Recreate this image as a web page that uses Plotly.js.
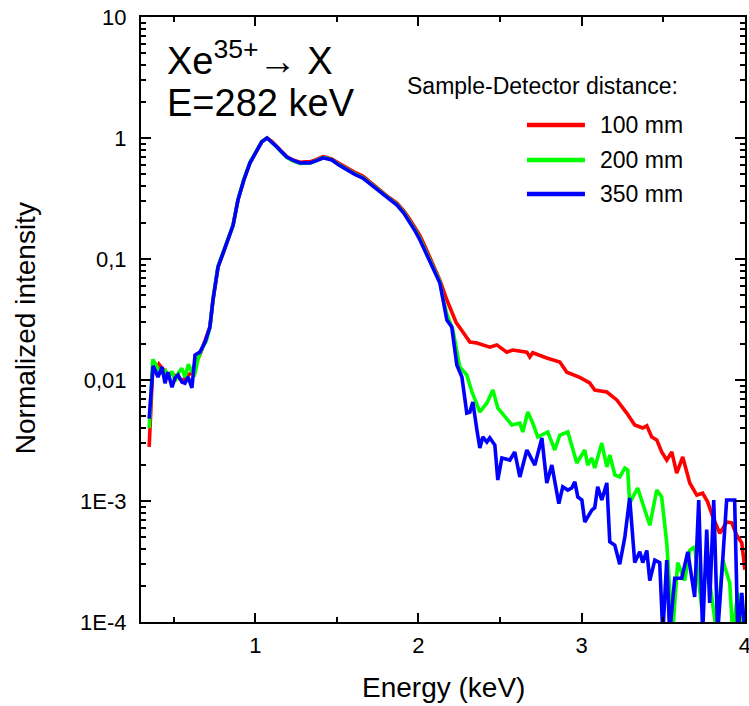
<!DOCTYPE html>
<html>
<head>
<meta charset="utf-8">
<script src="https://cdn.plot.ly/plotly-3.0.1.min.js"></script>
<style>html,body{margin:0;padding:0;background:#fff;}#chart{width:749px;height:706px;}</style>
</head>
<body>
<div id="chart"></div>
<script>
// Energy (keV) and normalized intensity
const seriesNames = ["100 mm", "200 mm", "350 mm"];
const seriesColors = ["#ff0000", "#00ff00", "#0000ff"];

const xRed = [0.35,0.372,0.39,0.41,0.43,0.45,0.47,0.49,0.51,0.53,0.55,0.57,0.59,0.61,0.63,0.66,0.69,0.722,0.741,0.772,0.81,0.833,0.864,0.894,0.93,0.967,1.010,1.04,1.072,1.10,1.133,1.165,1.194,1.23,1.274,1.31,1.335,1.375,1.415,1.44,1.47,1.51,1.561,1.61,1.659,1.71,1.764,1.82,1.868,1.91,1.947,1.98,2.009,2.04,2.07,2.10,2.131,2.174,2.23,2.272,2.315,2.358,2.437,2.48,2.541,2.578,2.664,2.682,2.70,2.786,2.866,2.909,2.988,3.049,3.08,3.154,3.215,3.276,3.325,3.374,3.399,3.429,3.46,3.49,3.521,3.552,3.582,3.619,3.662,3.705,3.741,3.772,3.803,3.846,3.888,3.919,3.95,3.981,4.0];
const yRed = [0.0028,0.0125,0.0118,0.0135,0.0125,0.0118,0.011,0.0112,0.0108,0.0105,0.0098,0.0105,0.011,0.0115,0.0135,0.016,0.021,0.0274,0.046,0.086,0.118,0.144,0.19,0.307,0.45,0.62,0.80,0.93,1.0,0.94,0.85,0.77,0.70,0.66,0.63,0.635,0.635,0.665,0.70,0.69,0.67,0.62,0.565,0.52,0.485,0.425,0.372,0.322,0.29,0.25,0.212,0.182,0.156,0.127,0.103,0.085,0.067,0.0458,0.030,0.0249,0.0206,0.0202,0.0187,0.0195,0.0170,0.0177,0.0170,0.0155,0.0168,0.0152,0.0141,0.0116,0.0105,0.00945,0.00826,0.00796,0.00684,0.00533,0.00425,0.00401,0.00418,0.00338,0.00319,0.00254,0.00218,0.00254,0.0017,0.00231,0.00141,0.00112,0.00116,0.00098,0.00074,0.00054,0.00067,0.00066,0.00052,0.00045,0.00027];

const xGreen = [0.35,0.372,0.39,0.41,0.43,0.45,0.47,0.49,0.51,0.53,0.55,0.57,0.59,0.61,0.63,0.65,0.68,0.70,0.722,0.741,0.772,0.81,0.833,0.864,0.894,0.93,0.967,1.010,1.04,1.072,1.10,1.133,1.165,1.194,1.23,1.274,1.31,1.335,1.375,1.415,1.44,1.47,1.51,1.561,1.61,1.659,1.71,1.764,1.82,1.868,1.91,1.947,1.98,2.009,2.04,2.07,2.10,2.131,2.149,2.174,2.211,2.253,2.296,2.327,2.376,2.419,2.456,2.486,2.529,2.572,2.621,2.639,2.67,2.70,2.731,2.792,2.835,2.866,2.915,2.97,3.019,3.037,3.062,3.08,3.123,3.154,3.172,3.203,3.233,3.264,3.282,3.294,3.343,3.374,3.417,3.46,3.49,3.521,3.557,3.588,3.631,3.662,3.692,3.735,3.766,3.797,3.827,3.864,3.907,3.925,3.956,3.986];
const yGreen = [0.004,0.0148,0.0135,0.012,0.0115,0.012,0.0105,0.0118,0.0098,0.0115,0.0125,0.0105,0.0135,0.0118,0.0112,0.015,0.019,0.021,0.027,0.046,0.087,0.118,0.145,0.19,0.31,0.455,0.625,0.80,0.935,1.0,0.93,0.84,0.755,0.69,0.648,0.615,0.62,0.618,0.652,0.69,0.68,0.66,0.605,0.55,0.505,0.472,0.415,0.362,0.313,0.282,0.243,0.205,0.173,0.147,0.118,0.095,0.08,0.065,0.048,0.035,0.0259,0.0128,0.011,0.008,0.00544,0.00646,0.00826,0.00587,0.00495,0.00425,0.00441,0.00372,0.00544,0.00441,0.00338,0.00372,0.00264,0.00351,0.00372,0.00206,0.00264,0.00198,0.00227,0.00187,0.00301,0.00191,0.0024,0.00164,0.00158,0.00187,0.0018,0.00096,0.00128,0.00096,0.00063,0.00123,0.00108,0.00045,0.00008,0.00031,0.00022,0.00039,0.00042,0.000133,0.00031,0.000161,0.00008,0.000325,0.00021,0.00008,0.000174,0.00008];

const xBlue = [0.35,0.374,0.404,0.429,0.447,0.465,0.49,0.508,0.527,0.551,0.569,0.588,0.612,0.631,0.661,0.692,0.722,0.741,0.772,0.81,0.833,0.864,0.894,0.93,0.967,1.010,1.04,1.072,1.10,1.133,1.165,1.194,1.23,1.274,1.31,1.335,1.375,1.415,1.44,1.47,1.51,1.561,1.61,1.659,1.71,1.764,1.82,1.868,1.91,1.947,1.98,2.009,2.04,2.07,2.10,2.131,2.149,2.174,2.204,2.235,2.266,2.296,2.315,2.333,2.358,2.376,2.394,2.419,2.437,2.468,2.486,2.511,2.56,2.59,2.621,2.664,2.713,2.756,2.786,2.817,2.86,2.884,2.915,2.939,2.958,2.976,3.001,3.019,3.062,3.08,3.098,3.123,3.154,3.172,3.203,3.233,3.264,3.294,3.325,3.356,3.374,3.399,3.417,3.448,3.478,3.497,3.521,3.539,3.57,3.613,3.65,3.692,3.717,3.741,3.766,3.784,3.809,3.833,3.864,3.888,3.937,3.956,3.981,4.0];
const yBlue = [0.0048,0.0131,0.0106,0.0128,0.0094,0.0116,0.0087,0.0104,0.011,0.0096,0.0094,0.0106,0.0086,0.0161,0.017,0.0205,0.0274,0.0458,0.0859,0.118,0.1436,0.19,0.307,0.45,0.621,0.796,0.93,1.0,0.93,0.843,0.76,0.697,0.655,0.621,0.625,0.621,0.65,0.684,0.675,0.658,0.60,0.545,0.50,0.467,0.41,0.358,0.31,0.279,0.24,0.202,0.17,0.1436,0.115,0.0927,0.078,0.0633,0.0458,0.0313,0.0274,0.0133,0.0106,0.00533,0.00544,0.00658,0.00387,0.00274,0.00338,0.00307,0.00332,0.0029,0.00149,0.00227,0.00218,0.00254,0.00158,0.00264,0.00198,0.00332,0.00141,0.00198,0.00095,0.00131,0.00123,0.00128,0.00144,0.00108,0.00102,0.00067,0.00084,0.00088,0.00131,0.00102,0.00141,0.00046,0.00043,0.0003,0.0005,0.00106,0.00031,0.00038,0.00031,0.00039,0.00022,0.000325,0.00031,0.00008,0.000325,0.00008,0.00023,0.00023,0.00038,0.000161,0.00102,0.00008,0.00058,0.000144,0.00102,0.00008,0.000325,0.00102,0.00102,0.00008,0.000174,0.00008];

const xTickVals = [1, 2, 3, 4];
const xTickText = ["1", "2", "3", "4"];
const yTickVals = [1e-4, 1e-3, 0.01, 0.1, 1, 10];
const yTickText = ["1E-4", "1E-3", "0,01", "0,1", "1", "10"];

const xs = [xRed, xGreen, xBlue];
const ys = [yRed, yGreen, yBlue];

const FONT = "Liberation Sans, Arial, sans-serif";

const traces = xs.map((x, i) => ({
  x: x, y: ys[i], type: "scatter", mode: "lines", name: seriesNames[i],
  line: {color: seriesColors[i], width: 3.6}, showlegend: false
}));

// minor tick positions on the log axis (2..9 per decade)
const yMinor = [];
for (let e = -4; e < 1; e++) for (let m = 2; m <= 9; m++) yMinor.push(m * Math.pow(10, e));

// legend drawn by hand (paper coordinates)
const L = {x0: 0.639, x1: 0.735, tx: 0.757, ys: [0.8215, 0.7636, 0.7074]};
const shapes = seriesNames.map((n, i) => ({
  type: "line", xref: "paper", yref: "paper",
  x0: L.x0, x1: L.x1, y0: L.ys[i], y1: L.ys[i],
  line: {color: seriesColors[i], width: 4.5}
}));
const annotations = seriesNames.map((n, i) => ({
  xref: "paper", yref: "paper", x: L.tx, y: L.ys[i], xanchor: "left", yanchor: "middle",
  text: n, showarrow: false, font: {family: FONT, size: 23, color: "#000"}
}));
annotations.push({
  xref: "paper", yref: "paper", x: 0.892, y: 0.886, xanchor: "right", yanchor: "middle",
  text: "Sample-Detector distance:", showarrow: false, font: {family: FONT, size: 23, color: "#000"}
});
annotations.push({
  xref: "paper", yref: "paper", x: 0.04, y: 0.932, xanchor: "left", yanchor: "middle",
  text: "Xe<sup>35+</sup>→ X", showarrow: false, font: {family: FONT, size: 38, color: "#000"}
});
annotations.push({
  xref: "paper", yref: "paper", x: 0.04, y: 0.858, xanchor: "left", yanchor: "middle",
  text: "E=282 keV", showarrow: false, font: {family: FONT, size: 38, color: "#000"}
});
// axis titles, placed as in the reference
annotations.push({
  xref: "paper", yref: "paper", x: 0.5, y: -0.109, xanchor: "center", yanchor: "middle",
  text: "Energy (keV)", showarrow: false, font: {family: FONT, size: 28, color: "#000"}
});
annotations.push({
  xref: "paper", yref: "paper", x: -0.19, y: 0.486, xanchor: "center", yanchor: "middle",
  textangle: -90, text: "Normalized intensity", showarrow: false, font: {family: FONT, size: 28, color: "#000"}
});

const layout = {
  width: 749, height: 706,
  margin: {l: 141, r: 4, t: 17, b: 84},
  paper_bgcolor: "#fff", plot_bgcolor: "#fff",
  font: {family: FONT, color: "#000"},
  showlegend: false,
  xaxis: {
    range: [0.3, 4.0005], tickmode: "array", tickvals: xTickVals, ticktext: xTickText,
    ticks: "inside", ticklen: 9, tickwidth: 2, tickcolor: "#000",
    minor: {ticks: "inside", ticklen: 5, tickwidth: 2, tickcolor: "#000", tickvals: [0.5, 1.5, 2.5, 3.5], showgrid: false},
    showline: true, linewidth: 2, linecolor: "#000", mirror: "allticks",
    showgrid: false, zeroline: false, ticklabelstandoff: 3, ticklabeloverflow: "allow",
    tickfont: {family: FONT, size: 22, color: "#000"}
  },
  yaxis: {
    type: "log", range: [-4, 1], tickmode: "array", tickvals: yTickVals, ticktext: yTickText,
    ticks: "inside", ticklen: 10, tickwidth: 2, tickcolor: "#000",
    minor: {ticks: "inside", ticklen: 5, tickwidth: 2, tickcolor: "#000", tickvals: yMinor, showgrid: false},
    showline: true, linewidth: 2, linecolor: "#000", mirror: "allticks",
    showgrid: false, zeroline: false, ticklabelstandoff: 8, ticklabeloverflow: "allow",
    tickfont: {family: FONT, size: 22, color: "#000"}
  },
  shapes: shapes,
  annotations: annotations
};

Plotly.newPlot("chart", traces, layout, {displayModeBar: false, staticPlot: true});
</script>
</body>
</html>
